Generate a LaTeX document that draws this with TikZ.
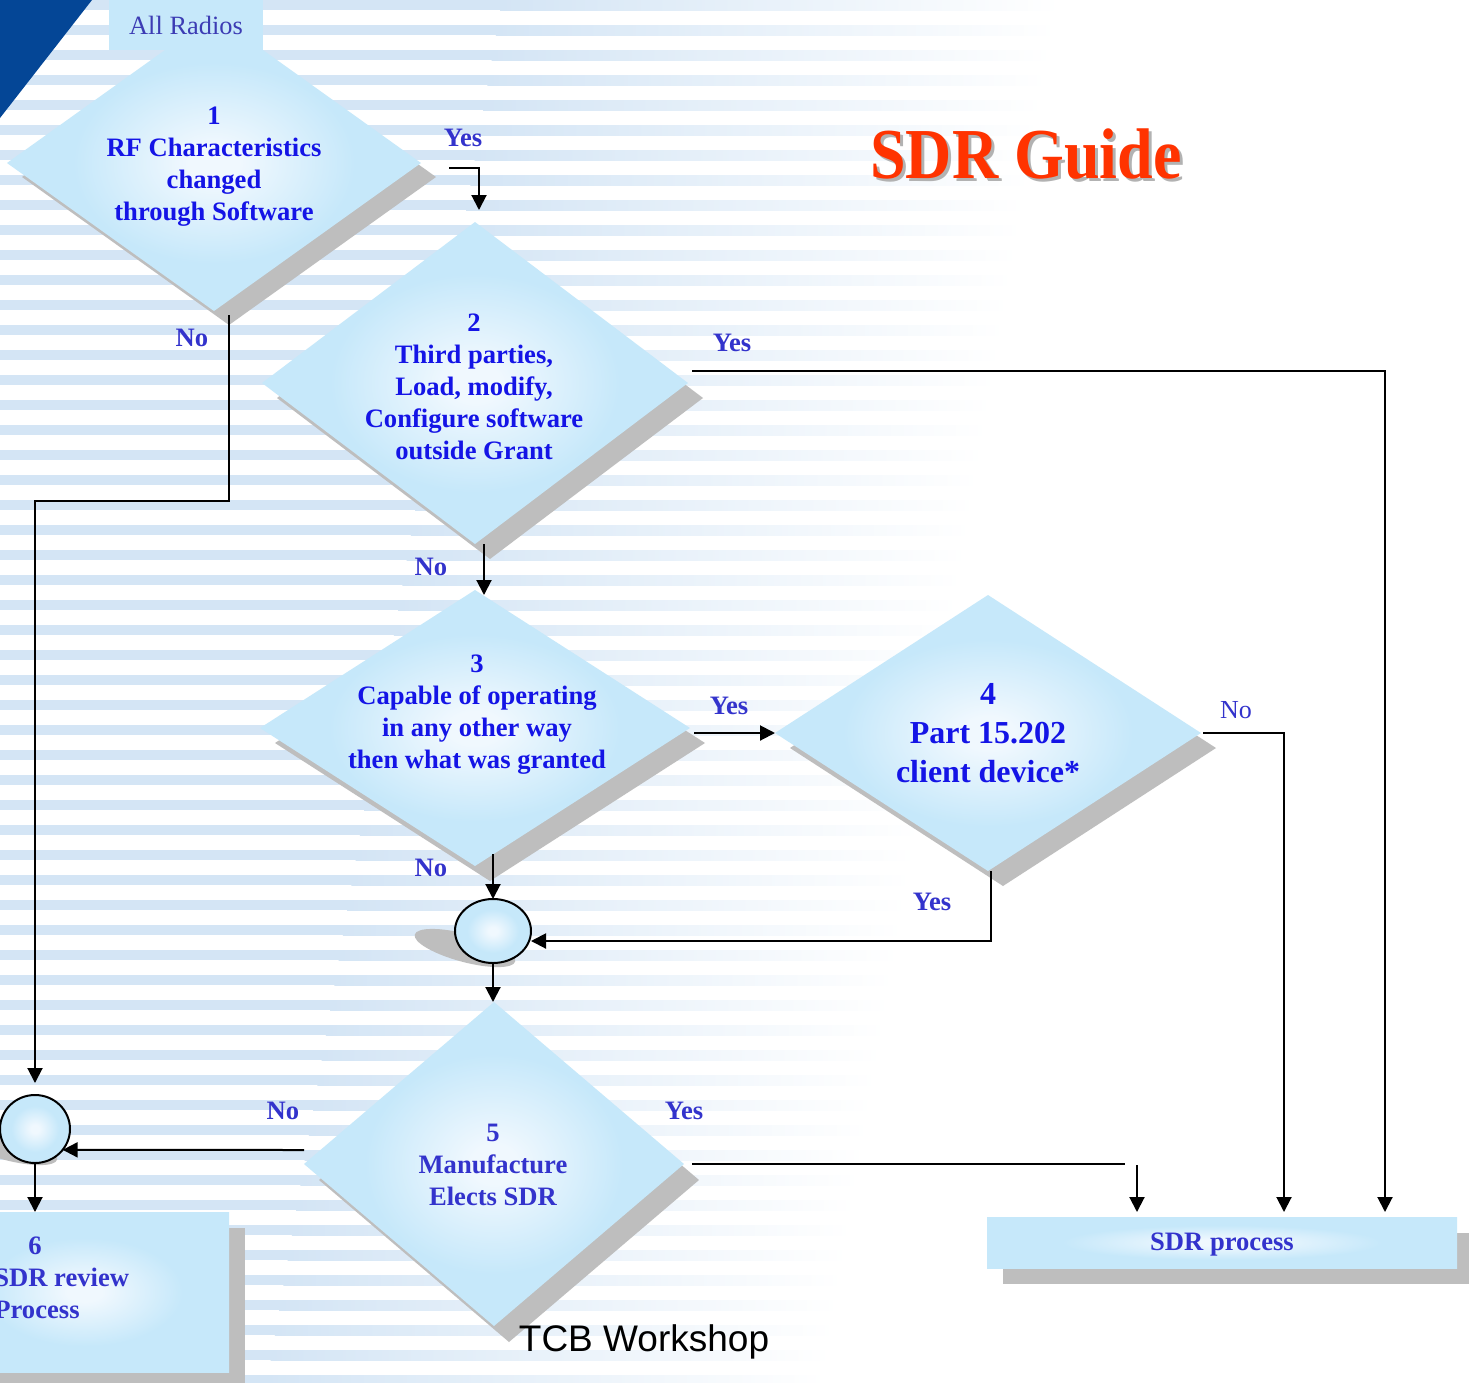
\documentclass[tikz,border=0pt]{standalone}
\usepackage{fontspec}
\usepackage{graphicx}
\setmainfont{Liberation Serif}
\newfontfamily\arialf{Liberation Sans}
\usetikzlibrary{shapes.geometric,arrows.meta,calc}
\definecolor{txtblue}{RGB}{20,20,230}
\definecolor{lblblue}{RGB}{51,51,204}
\definecolor{radblue}{RGB}{60,60,180}
\definecolor{cin}{RGB}{240,248,254}
\definecolor{cout}{RGB}{198,232,250}
\definecolor{stripeblue}{RGB}{212,229,245}
\definecolor{shadowgray}{RGB}{190,190,190}
\definecolor{topnavy}{RGB}{4,70,150}
\definecolor{titlered}{RGB}{255,51,0}
\pgfdeclareradialshading{diashade}{\pgfpoint{0bp}{0bp}}{color(0bp)=(cin); color(3bp)=(cin); color(17bp)=(cout); color(50bp)=(cout)}
\begin{document}
\begin{tikzpicture}[x=0.5pt,y=-0.5pt,
  arr/.style={draw=black,line width=1pt,-{Triangle[length=7.5pt,width=7.5pt]}},
  ln/.style={draw=black,line width=1pt},
  dia/.style={diamond,inner sep=0pt,outer sep=0pt,shading=diashade},
  diashadow/.style={diamond,inner sep=0pt,outer sep=0pt,fill=shadowgray},
  dtext/.style={align=center,text=txtblue,font=\fontsize{13.3}{16}\selectfont\bfseries,inner sep=0pt},
  ltext/.style={align=center,text=lblblue,font=\fontsize{13.3}{16}\selectfont\bfseries,inner sep=0pt},
  yn/.style={text=lblblue,font=\fontsize{13.3}{16}\selectfont\bfseries,inner sep=0pt},
  junction/.style={ellipse,draw=black,line width=1pt,shading=diashade,inner sep=0pt,outer sep=0pt},
  boxs/.style={rectangle,inner sep=0pt,outer sep=0pt,shading=diashade},
  boxshadow/.style={rectangle,inner sep=0pt,outer sep=0pt,fill=shadowgray}
]
\useasboundingbox (0,0) rectangle (1469,1383);
\fill[white] (0,0) rectangle (1469,1383);
% striped background, fading to the right
\foreach \k in {0,...,55} {
  \pgfmathsetmacro\xend{1060-0.17*25*\k}
  \pgfmathsetmacro\xbeg{\xend-560}
  \fill[stripeblue] (0,{25*\k}) rectangle (\xbeg+1,{25*\k+10});
  \shade[left color=stripeblue,right color=white] (\xbeg,{25*\k}) rectangle (\xend,{25*\k+10});
}
\fill[topnavy] (0,0) -- (92,0) -- (0,118) -- cycle;

% shadows
\node[diashadow,minimum width=207pt,minimum height=148pt] (d1s) at (229,177) {};
\node[diashadow,minimum width=213pt,minimum height=161pt] (d2s) at (490,398) {};
\node[diashadow,minimum width=215pt,minimum height=138pt] (d3s) at (490,743) {};
\node[diashadow,minimum width=213pt,minimum height=138pt] (d4s) at (1003,748) {};
\node[diashadow,minimum width=190pt,minimum height=162pt] (d5s) at (509,1180) {};
\node[boxshadow,minimum width=144.5pt,minimum height=80pt] (b6s) at (100.5,1308) {};
\node[boxshadow,minimum width=235pt,minimum height=25.5pt] (sdrs) at (1238,1258.5) {};
\fill[shadowgray, rotate around={-15:(465,948)}] (465,948) ellipse [x radius=26pt, y radius=7pt];
\fill[shadowgray, rotate around={-15:(7,1146)}] (7,1146) ellipse [x radius=26pt, y radius=7pt];

% diamonds
\node[dia,minimum width=207pt,minimum height=148pt] (d1) at (214,163) {};
\node[dia,minimum width=213pt,minimum height=161pt] (d2) at (475,383) {};
\node[dia,minimum width=215pt,minimum height=138pt] (d3) at (475,728) {};
\node[dia,minimum width=213pt,minimum height=138pt] (d4) at (988,733) {};
\node[dia,minimum width=190pt,minimum height=162pt] (d5) at (494,1164) {};

% junctions and boxes
\node[junction,minimum width=38pt,minimum height=32pt] (c1) at (493,931) {};
\node[junction,minimum width=35pt,minimum height=34pt] (c2) at (35,1129) {};
\node[boxs,minimum width=144.5pt,minimum height=80pt] (b6) at (84.5,1292) {};
\node[boxs,minimum width=235pt,minimum height=25.5pt] (sdr) at (1222,1242.5) {};
\node[rectangle,fill=cout,minimum width=77pt,minimum height=25pt,inner sep=0pt,outer sep=0pt,text=radblue,font=\fontsize{13.2}{16}\selectfont] (allr) at (186,25) {All Radios};

% connectors
\coordinate (bend1) at (229,501);
\coordinate (gapA) at (1125,1164);
\coordinate (gapB) at (1137,1165);
\draw[arr] ([xshift=14pt,yshift=-2.5pt]d1.east) -| ([xshift=2pt,yshift=6pt]d2.north);
\draw[arr] ([xshift=7.5pt,yshift=-2pt]d1.south) -- (bend1) -| ([yshift=6pt]c2.north);
\draw[arr] ([xshift=2pt,yshift=6pt]d2.east) -| ([xshift=81.5pt,yshift=2.5pt]sdr.north);
\draw[arr] ([xshift=4.5pt]d2.south) -- ([xshift=4.5pt,yshift=-2.5pt]d3.north);
\draw[arr] ([xshift=2pt,yshift=-2.5pt]d3.east) -- (d4.west);
\draw[arr] ([xshift=9pt,yshift=6pt]d3.south) -- (c1.north);
\draw[arr] ([xshift=1pt]d4.east) -| ([xshift=31pt,yshift=2.5pt]sdr.north);
\draw[arr] ([xshift=1.5pt]d4.south) |- ([yshift=-5pt]c1.east);
\draw[arr] (c1.south) -- ([xshift=-0.5pt]d5.north);
\draw[ln] ([xshift=4pt]d5.east) -- (gapA);
\draw[arr] (gapB) -- ([xshift=-42.5pt,yshift=2.5pt]sdr.north);
\draw[arr] ([yshift=7pt]d5.west) -- (c2.-37);
\draw[arr] (c2.south) -- (c2.south |- b6.north);

% texts
\node[dtext] (t1) at (214,167) {1\\RF Characteristics\\changed\\through Software};
\node[dtext] (t2) at (474,387) {2\\Third parties,\\Load, modify,\\Configure software\\outside Grant};
\node[dtext] (t3) at (477,715) {3\\Capable of operating\\in any other way\\then what was granted};
\node[dtext,font=\fontsize{16}{19.5}\selectfont\bfseries] (t4) at (988,733) {4\\Part 15.202\\client device*};
\node[ltext] (t5) at (493,1165) {5\\Manufacture\\Elects SDR};
\node[ltext,align=left,anchor=west] (t6) at (-6,1278) {\hspace*{17pt}6\\SDR review\\Process};
\node[ltext] (tsdr) at (1222,1245) {SDR process};

% yes/no labels
\node[yn] (y1) at (463,138) {Yes};
\node[yn] (n1) at (192,338) {No};
\node[yn] (y2) at (732,343) {Yes};
\node[yn] (n2) at (431,567) {No};
\node[yn] (y3) at (729,706) {Yes};
\node[yn] (n3) at (431,868) {No};
\node[yn,font=\fontsize{13}{16}\selectfont] (n4) at (1236,710) {No};
\node[yn] (y4) at (932,902) {Yes};
\node[yn] (n5) at (283,1111) {No};
\node[yn] (y5) at (684,1111) {Yes};

% title and footer
\node[font=\fontsize{32}{36}\selectfont\bfseries,text=black!30,inner sep=0pt] (titles) at (1029,157) {\scalebox{1}[1.12]{SDR Guide}};
\node[font=\fontsize{32}{36}\selectfont\bfseries,text=titlered,inner sep=0pt] (title) at (1026,154) {\scalebox{1}[1.12]{SDR Guide}};
\node[font=\arialf\fontsize{18.5}{22}\selectfont,inner sep=0pt] (tcb) at (644,1342) {TCB Workshop};
\end{tikzpicture}
\end{document}
